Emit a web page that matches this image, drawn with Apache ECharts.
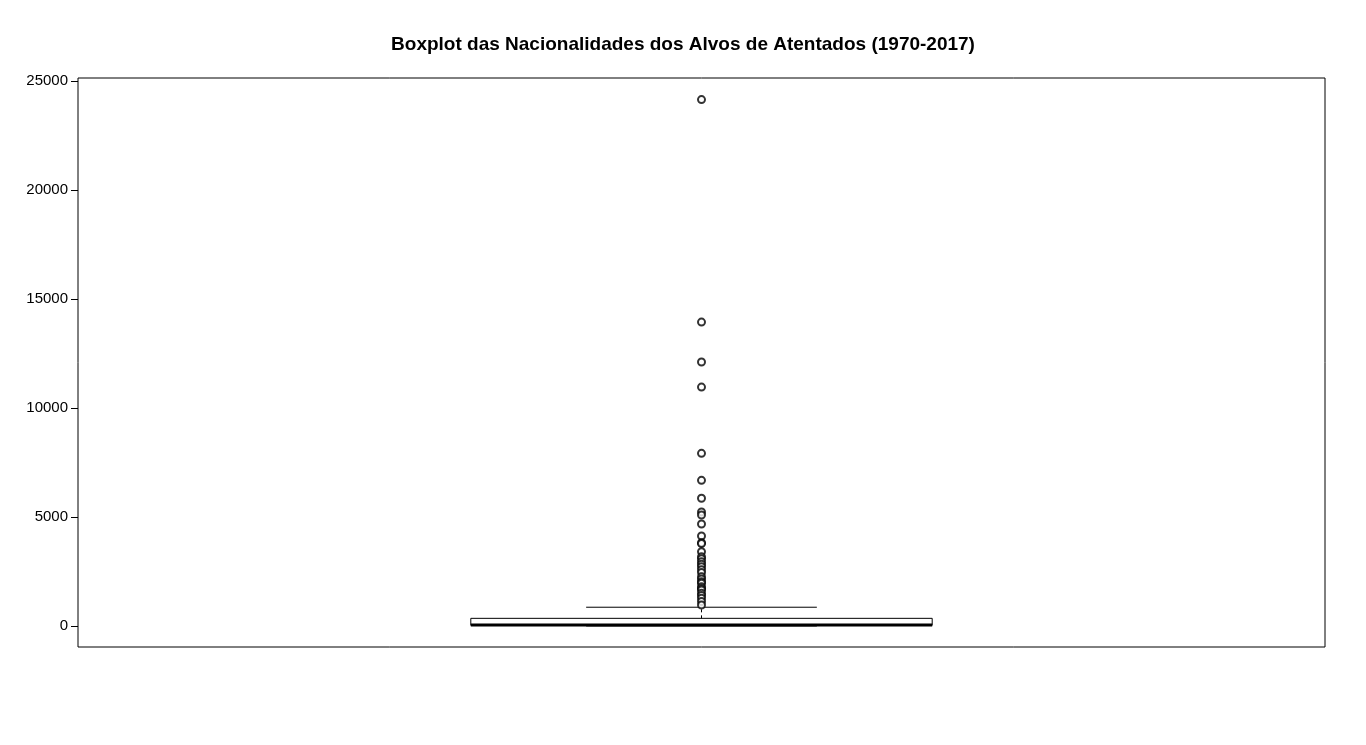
<!DOCTYPE html>
<html>
<head>
<meta charset="utf-8">
<script src="https://cdn.jsdelivr.net/npm/echarts@6/dist/echarts.min.js"></script>
<style>
  html, body { margin: 0; padding: 0; background: #fff; }
  #chart { width: 1366px; height: 745px; }
</style>
</head>
<body>
<div id="chart"></div>
<script>
  // five number summary: min, q1, median, q3, upper whisker
  let boxStats = [0, 30, 45, 350, 860]
  let outliers = [24150, 13940, 12110, 10960, 7920, 6680, 5860, 5230, 5090, 4680, 4130,
    3820, 3780, 3410, 3180, 3080, 2950, 2830, 2720, 2580, 2450, 2260, 2150, 2030,
    1960, 1800, 1720, 1650, 1500, 1400, 1270, 1120, 960]
  let yTicks = [0, 5000, 10000, 15000, 20000, 25000]

  let chart = echarts.init(document.getElementById('chart'))
  let option = {
    animation: false,
    title: {
      text: 'Boxplot das Nacionalidades dos Alvos de Atentados (1970-2017)',
      left: 'center',
      top: 30,
      textStyle: { fontFamily: 'Liberation Sans', fontWeight: 'bold', fontSize: 19, color: '#000' }
    },
    grid: { left: 78, right: 41, top: 78, bottom: 98, show: true, borderColor: '#000', borderWidth: 1 },
    xAxis: {
      type: 'category',
      data: ['alvos'],
      axisLine: { show: false }, axisTick: { show: false }, axisLabel: { show: false }
    },
    yAxis: {
      type: 'value',
      min: -965,
      max: 25140,
      splitLine: { show: false },
      axisLine: { show: false },
      axisTick: { show: true, customValues: yTicks, length: 7, lineStyle: { color: '#000' } },
      axisLabel: {
        customValues: yTicks,
        formatter: v => String(v),
        fontFamily: 'Liberation Sans', fontSize: 15, color: '#000', margin: 10
      }
    },
    series: [
      {
        type: 'custom',
        data: [[0].concat(boxStats)],
        renderItem: function (params, api) {
          let w = api.size([1, 0])[0] * 0.37
          let x = api.coord([api.value(0), 0])[0]
          let y = i => api.coord([0, api.value(i)])[1]
          let st = { stroke: '#000', fill: 'none', lineWidth: 1 }
          return {
            type: 'group',
            children: [
              { type: 'rect', shape: { x: x - w / 2, y: y(4), width: w, height: y(2) - y(4) }, style: { stroke: '#000', fill: '#fff', lineWidth: 1 } },
              { type: 'line', shape: { x1: x - w / 2, y1: y(3), x2: x + w / 2, y2: y(3) }, style: { stroke: '#000', lineWidth: 3 } },
              { type: 'line', shape: { x1: x, y1: y(4), x2: x, y2: y(5) }, style: Object.assign({ lineDash: [3, 3] }, st) },
              { type: 'line', shape: { x1: x - w / 4, y1: y(5), x2: x + w / 4, y2: y(5) }, style: st },
              { type: 'line', shape: { x1: x - w / 4, y1: y(1), x2: x + w / 4, y2: y(1) }, style: st }
            ]
          }
        }
      },
      {
        type: 'scatter',
        data: outliers.map(v => [0, v]),
        symbol: 'emptyCircle',
        symbolSize: 7,
        itemStyle: { color: '#000', borderColor: '#000', borderWidth: 1 }
      }
    ]
  }
  chart.setOption(option)
</script>
</body>
</html>
